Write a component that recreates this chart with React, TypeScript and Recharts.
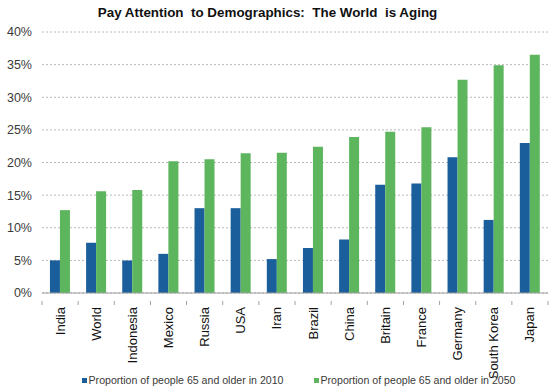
import {
  Bar,
  BarChart,
  CartesianGrid,
  Legend,
  XAxis,
  YAxis,
} from "recharts";

const countries = [
  "India",
  "World",
  "Indonesia",
  "Mexico",
  "Russia",
  "USA",
  "Iran",
  "Brazil",
  "China",
  "Britain",
  "France",
  "Germany",
  "South Korea",
  "Japan",
];
const share2010 = [5.0, 7.7, 5.0, 6.0, 13.0, 13.0, 5.2, 6.9, 8.2, 16.6, 16.8, 20.8, 11.2, 23.0];
const share2050 = [12.7, 15.6, 15.8, 20.2, 20.5, 21.4, 21.5, 22.4, 23.9, 24.7, 25.4, 32.7, 34.9, 36.5];
const yTicks = [0, 5, 10, 15, 20, 25, 30, 35, 40];

const labels = {
  y2010: "Proportion of people 65 and older in 2010",
  y2050: "Proportion of people 65 and older in 2050",
};

const theme = {
  blue: "#1b5e9c",
  green: "#5db55e",
  grid: "#b8b8b8",
  axis: "#a0a0a0",
  text: "#3a3a3a",
  font: "'Liberation Sans', Arial, sans-serif",
};

const data = countries.map((name, i) => ({
  name,
  y2010: share2010[i],
  y2050: share2050[i],
}));

const WIDTH = 550;
const HEIGHT = 388;
const margin = { top: 32, right: 2, bottom: 0, left: 0 };
const Y_WIDTH = 42;
const band = (WIDTH - margin.left - margin.right - Y_WIDTH) / countries.length;

function CountryTick(props: any) {
  const { x, y, payload } = props;
  return (
    <g>
      <line x1={x - band / 2} y1={y} x2={x - band / 2} y2={y + 4} stroke={theme.axis} />
      {payload.index === countries.length - 1 && (
        <line x1={x + band / 2} y1={y} x2={x + band / 2} y2={y + 4} stroke={theme.axis} />
      )}
      <text
        x={x}
        y={y + 6}
        transform={`rotate(-90 ${x} ${y + 6})`}
        textAnchor="end"
        dominantBaseline="central"
        fontSize={13}
        fill="#111"
        fontFamily={theme.font}
      >
        {payload.value}
      </text>
    </g>
  );
}

function LegendRow({ payload }: any) {
  return (
    <div
      style={{
        display: "flex",
        justifyContent: "center",
        gap: 30,
        fontFamily: theme.font,
        fontSize: 10.6,
        color: theme.text,
        paddingLeft: 49,
        paddingTop: 4,
      }}
    >
      {(payload || []).map((item: any) => (
        <span key={item.value} style={{ display: "flex", alignItems: "center" }}>
          <span
            style={{
              width: 5,
              height: 5,
              background: item.color,
              marginRight: 2,
              display: "inline-block",
            }}
          />
          {labels[item.value as keyof typeof labels]}
        </span>
      ))}
    </div>
  );
}

export default function App() {
  return (
    <div
      style={{
        position: "absolute",
        left: 0,
        top: 0,
        width: WIDTH,
        height: HEIGHT,
        background: "#fff",
      }}
    >
      <div
        style={{
          position: "absolute",
          top: 5,
          left: 0,
          width: WIDTH,
          textAlign: "center",
          fontFamily: theme.font,
          fontWeight: "bold",
          fontSize: 13.4,
          color: "#111",
          paddingRight: 15,
          boxSizing: "border-box",
        }}
      >
        Pay Attention&nbsp; to Demographics:&nbsp; The World&nbsp; is Aging
      </div>
      <BarChart
        width={WIDTH}
        height={HEIGHT}
        data={data}
        margin={margin}
        barCategoryGap="22%"
        barGap={0}
      >
        <CartesianGrid
          vertical={false}
          stroke={theme.grid}
          strokeDasharray="2 2"
        />
        <XAxis
          dataKey="name"
          interval={0}
          height={77}
          tickLine={false}
          axisLine={{ stroke: theme.axis }}
          tick={<CountryTick />}
        />
        <YAxis
          width={Y_WIDTH}
          domain={[0, 40]}
          ticks={yTicks}
          tickFormatter={(v) => `${v}%`}
          tickLine={false}
          axisLine={false}
          tickSize={0}
          tickMargin={10}
          tick={{ fill: theme.text, fontSize: 12.5, fontFamily: theme.font }}
        />
        <Legend
          verticalAlign="bottom"
          height={18}
          content={<LegendRow />}
        />
        <Bar dataKey="y2010" fill={theme.blue} isAnimationActive={false} />
        <Bar dataKey="y2050" fill={theme.green} isAnimationActive={false} />
      </BarChart>
    </div>
  );
}
